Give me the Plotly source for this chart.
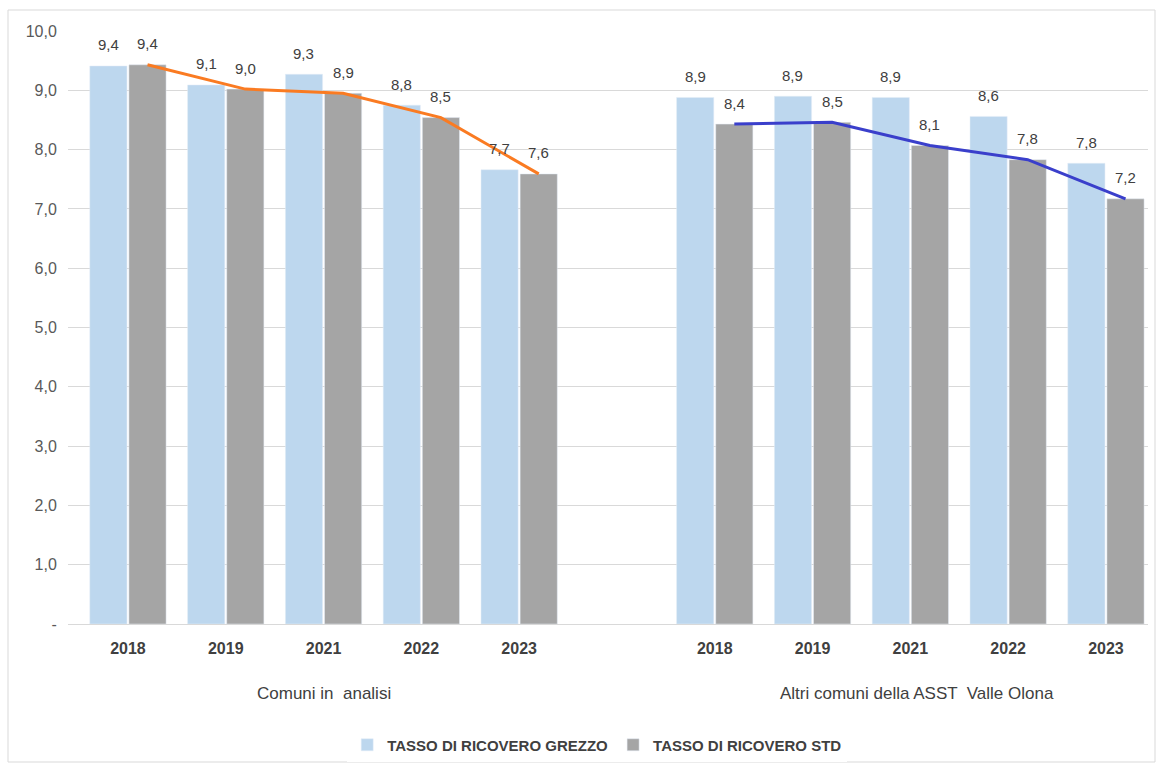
import plotly.graph_objects as go

# Categories: five years per area, with an empty slot between the two areas
years = ["2018", "2019", "2021", "2022", "2023"]
areas = ["Comuni in  analisi", "Altri comuni della ASST  Valle Olona"]

# Hospitalisation rates (per 100 residents)
grezzo_comuni = [9.41, 9.09, 9.27, 8.75, 7.66]
std_comuni = [9.43, 9.02, 8.95, 8.54, 7.59]
grezzo_altri = [8.88, 8.90, 8.88, 8.56, 7.77]
std_altri = [8.43, 8.46, 8.07, 7.83, 7.17]

y_ticks = [0, 1, 2, 3, 4, 5, 6, 7, 8, 9, 10]
y_ticklabels = ["-", "1,0", "2,0", "3,0", "4,0", "5,0", "6,0", "7,0", "8,0", "9,0", "10,0"]

# numeric slot positions: 0..4 left area, 6..10 right area
x_left = list(range(5))
x_right = [i + 6 for i in range(5)]
x_all = x_left + x_right
x_labels = years + years

COL_GREZZO = "#BDD7EE"
COL_STD = "#A5A5A5"
COL_ORANGE = "#FA7B22"
COL_BLUE = "#3A3FCB"
TXT = "#404040"
FONT = "Liberation Sans, Arial, sans-serif"

PLOT_TOP, PLOT_BOTTOM = 31, 624
PLOT_H = PLOT_BOTTOM - PLOT_TOP

BAR_W = 0.38
OFF = 0.2  # half distance between the two bars of a year

fig = go.Figure()
fig.add_trace(go.Bar(
    x=[v - OFF for v in x_all], y=grezzo_comuni + grezzo_altri,
    width=BAR_W, marker_color=COL_GREZZO, name="<b>TASSO DI RICOVERO GREZZO</b>",
    hoverinfo="y",
))
fig.add_trace(go.Bar(
    x=[v + OFF for v in x_all], y=std_comuni + std_altri,
    width=BAR_W, marker_color=COL_STD, name="<b>TASSO DI RICOVERO STD</b>",
    hoverinfo="y",
))

# trend lines over the standardised rates
fig.add_trace(go.Scatter(
    x=[v + OFF for v in x_left], y=std_comuni, mode="lines",
    line=dict(color=COL_ORANGE, width=3), showlegend=False, hoverinfo="skip",
))
fig.add_trace(go.Scatter(
    x=[v + OFF for v in x_right], y=std_altri, mode="lines",
    line=dict(color=COL_BLUE, width=3), showlegend=False, hoverinfo="skip",
))

# value labels above every bar
annotations = []
for xs, ys in [([v - OFF for v in x_all], grezzo_comuni + grezzo_altri),
               ([v + OFF for v in x_all], std_comuni + std_altri)]:
    for xv, yv in zip(xs, ys):
        annotations.append(dict(
            x=xv, y=yv, xref="x", yref="y", text=f"{yv:.1f}".replace(".", ","),
            showarrow=False, yshift=21, yanchor="middle",
            font=dict(family=FONT, size=15, color=TXT),
        ))

# area labels under the year ticks
for xc, name in zip([2, 8.07], areas):
    annotations.append(dict(
        x=xc, y=-(693 - PLOT_BOTTOM) / PLOT_H, xref="x", yref="paper", text=name,
        showarrow=False, yanchor="middle",
        font=dict(family=FONT, size=17, color=TXT),
    ))

fig.update_layout(
    width=1163, height=766,
    margin=dict(l=68, r=15, t=PLOT_TOP, b=766 - PLOT_BOTTOM, autoexpand=False),
    paper_bgcolor="white", plot_bgcolor="white",
    separators=",.",
    barmode="overlay",
    showlegend=True,
    legend=dict(
        orientation="h", x=0.49, xanchor="center",
        yref="container", y=1 - 745 / 766, yanchor="middle",
        font=dict(family=FONT, size=15, color=TXT), itemwidth=30,
        traceorder="normal",
    ),
    annotations=annotations,
    shapes=[dict(
        type="rect", xref="paper", yref="paper",
        x0=-60 / 1080, x1=1 + 7 / 1080, y0=-138 / PLOT_H, y1=1 + 21 / PLOT_H,
        line=dict(color="#D9D9D9", width=1), fillcolor="rgba(0,0,0,0)",
        layer="below",
    )],
)

fig.update_xaxes(
    range=[-0.613, 10.43],
    tickmode="array", tickvals=x_all,
    ticktext=[f"<b>{t}</b>" for t in x_labels],
    tickfont=dict(family=FONT, size=16, color=TXT),
    showgrid=False, zeroline=False,
    showline=True, linecolor="#D9D9D9", linewidth=1,
    ticks="", ticklabelstandoff=10,
)
fig.update_yaxes(
    range=[0, 10],
    tickmode="array", tickvals=y_ticks, ticktext=y_ticklabels,
    tickfont=dict(family=FONT, size=16, color="#595959"),
    showgrid=True, gridcolor="#D9D9D9", gridwidth=1,
    zeroline=False, showline=False, ticks="outside", ticklen=7,
    tickcolor="rgba(0,0,0,0)",
)

fig.write_html("out.html")
